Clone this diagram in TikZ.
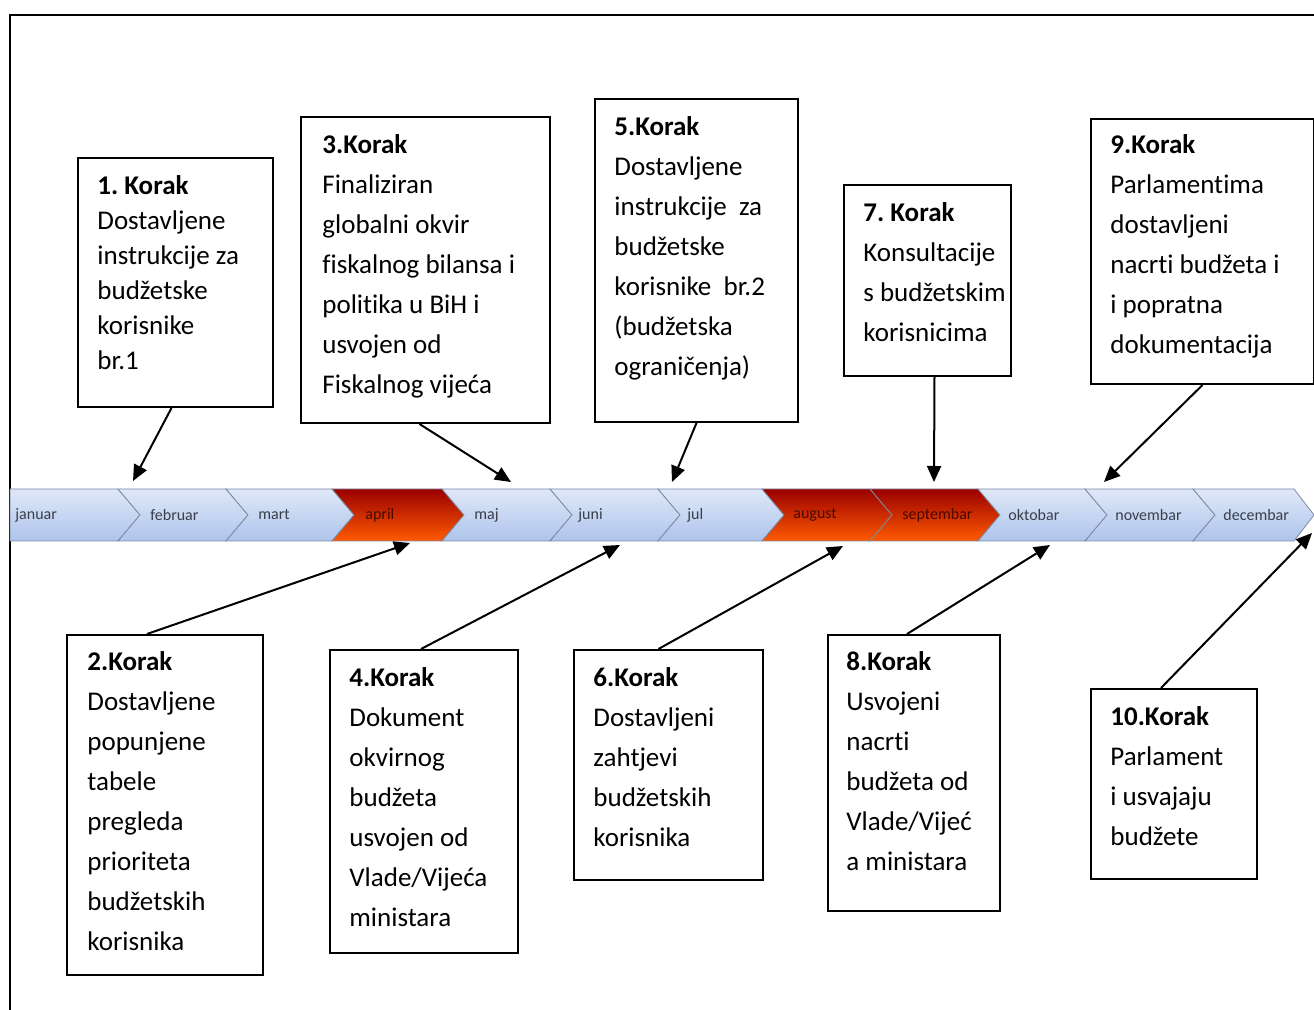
\documentclass[tikz,border=0pt]{standalone}
\usepackage{fontspec}
\setmainfont[Ligatures=NoCommon]{Carlito}
\frenchspacing
\usetikzlibrary{arrows.meta}
\definecolor{plavagore}{HTML}{DFE8F8}
\definecolor{plavadolje}{HTML}{AEC4EC}
\definecolor{crvenagore}{HTML}{9A0000}
\definecolor{crvenasred}{HTML}{FF2A00}
\definecolor{crvenadolje}{HTML}{FF5A00}
\definecolor{rub}{HTML}{7D8AA3}
\definecolor{mjesectekst}{HTML}{3A3F4A}
\definecolor{crvenitekst}{HTML}{4A0800}

\begin{document}
\begin{tikzpicture}[x=0.5pt,y=-0.5pt,
  korak/.style={draw,line width=1pt,anchor=north west,inner sep=0pt},
  tekst/.style={anchor=base west,inner sep=0pt,font=\fontsize{13.5}{20}\selectfont},
  plavi/.style={draw=rub,top color=plavagore,bottom color=plavadolje},
  crveni/.style={draw=rub,top color=crvenagore,middle color=crvenasred,bottom color=crvenadolje},
  mjesec/.style={anchor=west,inner sep=0pt,font=\fontsize{8}{9}\selectfont,text=mjesectekst},
  strelica/.style={line width=1pt,-{Triangle[length=8pt,width=7pt]}}]
\useasboundingbox (0,0) rectangle (1314,1010);
\draw[line width=1pt] (10,1010) -- (10,15) -- (1314,15);

\draw[plavi] (10,489) -- (118,489) -- (140,515) -- (118,541) -- (10,541) -- cycle;
\draw[plavi] (118,489) -- (226,489) -- (248,515) -- (226,541) -- (118,541) -- (140,515) -- cycle;
\draw[plavi] (226,489) -- (332,489) -- (354,515) -- (332,541) -- (226,541) -- (248,515) -- cycle;
\draw[crveni] (332,489) -- (442,489) -- (464,515) -- (442,541) -- (332,541) -- (354,515) -- cycle;
\draw[plavi] (442,489) -- (550,489) -- (572,515) -- (550,541) -- (442,541) -- (464,515) -- cycle;
\draw[plavi] (550,489) -- (658,489) -- (680,515) -- (658,541) -- (550,541) -- (572,515) -- cycle;
\draw[plavi] (658,489) -- (762,489) -- (784,515) -- (762,541) -- (658,541) -- (680,515) -- cycle;
\draw[crveni] (762,489) -- (870,489) -- (892,515) -- (870,541) -- (762,541) -- (784,515) -- cycle;
\draw[crveni] (870,489) -- (978,489) -- (1000,515) -- (978,541) -- (870,541) -- (892,515) -- cycle;
\draw[plavi] (978,489) -- (1085,489) -- (1107,515) -- (1085,541) -- (978,541) -- (1000,515) -- cycle;
\draw[plavi] (1085,489) -- (1193,489) -- (1215,515) -- (1193,541) -- (1085,541) -- (1107,515) -- cycle;
\draw[plavi] (1193,489) -- (1294,489) -- (1314,515) -- (1294,541) -- (1193,541) -- (1215,515) -- cycle;

\node[mjesec] (jan) at (15,515) {januar};
\node[mjesec] (feb) at (150,515) {februar};
\node[mjesec] (mar) at (258,515) {mart};
\node[mjesec,text=crvenitekst] (apr) at (365,515) {april};
\node[mjesec] (maj) at (474,515) {maj};
\node[mjesec] (jun) at (578,515) {juni};
\node[mjesec] (jul) at (687,515) {jul};
\node[mjesec,text=crvenitekst] (aug) at (793,515) {august};
\node[mjesec,text=crvenitekst] (sep) at (902,515) {septembar};
\node[mjesec] (okt) at (1008,515) {oktobar};
\node[mjesec] (nov) at (1115,515) {novembar};
\node[mjesec] (dec) at (1223,515) {decembar};

\node[korak,minimum width=97.5pt,minimum height=124.5pt] (k1) at (77,157) {};
\node[korak,minimum width=124.5pt,minimum height=153pt] (k3) at (300,116) {};
\node[korak,minimum width=101.5pt,minimum height=161.5pt] (k5) at (594,98) {};
\node[korak,minimum width=83.5pt,minimum height=95.5pt] (k7) at (843,184) {};
\node[korak,minimum width=111.5pt,minimum height=132.5pt] (k9) at (1090,118) {};
\node[korak,minimum width=98pt,minimum height=170pt] (k2) at (66,634) {};
\node[korak,minimum width=94pt,minimum height=151.5pt] (k4) at (329,649) {};
\node[korak,minimum width=94.5pt,minimum height=115pt] (k6) at (573,649) {};
\node[korak,minimum width=86pt,minimum height=138pt] (k8) at (827,634) {};
\node[korak,minimum width=83pt,minimum height=95pt] (k10) at (1090,688) {};

\node[tekst,font=\fontsize{13.5}{17.5}\selectfont] (t1) at ([shift={(20,38)}]k1.north west) {\parbox[t]{90pt}{\textbf{1. Korak}\\Dostavljene\\instrukcije za\\budžetske\\korisnike\\br.1}};
\node[tekst] (t3) at ([shift={(22,38)}]k3.north west) {\parbox[t]{115pt}{\textbf{3.Korak}\\Finaliziran\\globalni okvir\\fiskalnog bilansa i\\politika u BiH i\\usvojen od\\Fiskalnog vijeća}};
\node[tekst] (t5) at ([shift={(20,38)}]k5.north west) {\parbox[t]{95pt}{\textbf{5.Korak}\\Dostavljene\\instrukcije\ \ za\\budžetske\\korisnike\ \ br.2\\(budžetska\\ograničenja)}};
\node[tekst] (t7) at ([shift={(20,38)}]k7.north west) {\parbox[t]{80pt}{\textbf{7. Korak}\\Konsultacije\\s budžetskim\\korisnicima}};
\node[tekst] (t9) at ([shift={(20,36)}]k9.north west) {\parbox[t]{100pt}{\textbf{9.Korak}\\Parlamentima\\dostavljeni\\nacrti budžeta i\\i popratna\\dokumentacija}};
\node[tekst] (t2) at ([shift={(21,37)}]k2.north west) {\parbox[t]{90pt}{\textbf{2.Korak}\\Dostavljene\\popunjene\\tabele\\pregleda\\prioriteta\\budžetskih\\korisnika}};
\node[tekst] (t4) at ([shift={(20,38)}]k4.north west) {\parbox[t]{90pt}{\textbf{4.Korak}\\Dokument\\okvirnog\\budžeta\\usvojen od\\Vlade/Vijeća\\ministara}};
\node[tekst] (t6) at ([shift={(20,38)}]k6.north west) {\parbox[t]{90pt}{\textbf{6.Korak}\\Dostavljeni\\zahtjevi\\budžetskih\\korisnika}};
\node[tekst] (t8) at ([shift={(19,37)}]k8.north west) {\parbox[t]{85pt}{\textbf{8.Korak}\\Usvojeni\\nacrti\\budžeta od\\Vlade/Vijeć\\a ministara}};
\node[tekst] (t10) at ([shift={(20,38)}]k10.north west) {\parbox[t]{80pt}{\textbf{10.Korak}\\Parlament\\i usvajaju\\budžete}};

\coordinate (p1) at (133,481);
\coordinate (p3) at (511,482);
\coordinate (p5) at (672,482);
\coordinate (p7) at (934,482);
\coordinate (p9) at (1104,482);
\coordinate (p2) at (410,543);
\coordinate (p4) at (620,545);
\coordinate (p6) at (843,546);
\coordinate (p8) at (1050,545);
\coordinate (p10) at (1312,533);

\draw[strelica] ([xshift=-2pt]k1.south) -- (p1);
\draw[strelica] ([xshift=-3pt]k3.south) -- (p3);
\draw[strelica] (k5.south) -- (p5);
\draw[strelica] ([xshift=3.5pt]k7.south) -- (p7);
\draw[strelica] (k9.south) -- (p9);
\draw[strelica] ([xshift=-9pt]k2.north) -- (p2);
\draw[strelica] ([xshift=-1.5pt]k4.north) -- (p4);
\draw[strelica] ([xshift=-5pt]k6.north) -- (p6);
\draw[strelica] ([xshift=-3.5pt]k8.north) -- (p8);
\draw[strelica] ([xshift=-6.5pt]k10.north) -- (p10);
\end{tikzpicture}
\end{document}
